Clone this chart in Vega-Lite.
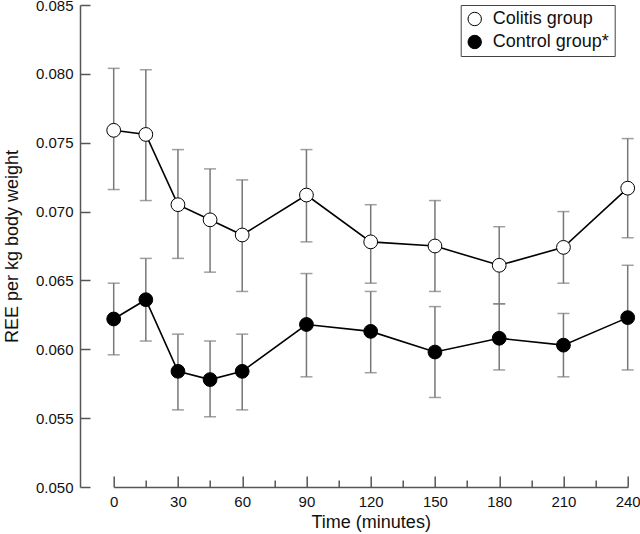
{
  "$schema": "https://vega.github.io/schema/vega-lite/v6.json",
  "width": 514,
  "height": 482,
  "autosize": "none",
  "padding": {"left": 113.7, "top": 5, "right": 12.3, "bottom": 47},
  "config": {
    "view": {"stroke": null},
    "font": "Liberation Sans",
    "axis": {
      "domainColor": "#555555",
      "domainWidth": 1.5,
      "tickColor": "#555555",
      "tickWidth": 1.5,
      "grid": false,
      "labelColor": "#111111",
      "titleColor": "#111111",
      "titleFontWeight": "normal",
      "labelFontSize": 15,
      "titleFontSize": 18
    }
  },
  "data": {
    "values": [
      {"group": "Colitis group", "time": 0, "mean": 0.0759, "lo": 0.0716, "hi": 0.0804},
      {"group": "Colitis group", "time": 15, "mean": 0.0756, "lo": 0.0708, "hi": 0.0803},
      {"group": "Colitis group", "time": 30, "mean": 0.0705, "lo": 0.0666, "hi": 0.0745},
      {"group": "Colitis group", "time": 45, "mean": 0.0694, "lo": 0.0656, "hi": 0.0731},
      {"group": "Colitis group", "time": 60, "mean": 0.0683, "lo": 0.0642, "hi": 0.0723},
      {"group": "Colitis group", "time": 90, "mean": 0.0712, "lo": 0.0678, "hi": 0.0745},
      {"group": "Colitis group", "time": 120, "mean": 0.0678, "lo": 0.0648, "hi": 0.0705},
      {"group": "Colitis group", "time": 150, "mean": 0.0675, "lo": 0.0642, "hi": 0.0708},
      {"group": "Colitis group", "time": 180, "mean": 0.0661, "lo": 0.0633, "hi": 0.0689},
      {"group": "Colitis group", "time": 210, "mean": 0.0674, "lo": 0.0648, "hi": 0.0700},
      {"group": "Colitis group", "time": 240, "mean": 0.0717, "lo": 0.0681, "hi": 0.0753},
      {"group": "Control group*", "time": 0, "mean": 0.0622, "lo": 0.0596, "hi": 0.0648},
      {"group": "Control group*", "time": 15, "mean": 0.0636, "lo": 0.0606, "hi": 0.0666},
      {"group": "Control group*", "time": 30, "mean": 0.0584, "lo": 0.0556, "hi": 0.0611},
      {"group": "Control group*", "time": 45, "mean": 0.0578, "lo": 0.0551, "hi": 0.0606},
      {"group": "Control group*", "time": 60, "mean": 0.0584, "lo": 0.0556, "hi": 0.0611},
      {"group": "Control group*", "time": 90, "mean": 0.0618, "lo": 0.0580, "hi": 0.0655},
      {"group": "Control group*", "time": 120, "mean": 0.0613, "lo": 0.0583, "hi": 0.0642},
      {"group": "Control group*", "time": 150, "mean": 0.0598, "lo": 0.0565, "hi": 0.0631},
      {"group": "Control group*", "time": 180, "mean": 0.0608, "lo": 0.0585, "hi": 0.0633},
      {"group": "Control group*", "time": 210, "mean": 0.0603, "lo": 0.0580, "hi": 0.0626},
      {"group": "Control group*", "time": 240, "mean": 0.0623, "lo": 0.0585, "hi": 0.0661}
    ]
  },
  "encoding": {
    "x": {
      "field": "time",
      "type": "quantitative",
      "scale": {"domain": [0, 240], "nice": false, "zero": false},
      "axis": {
        "title": "Time (minutes)",
        "values": [0, 15, 30, 45, 60, 75, 90, 105, 120, 135, 150, 165, 180, 195, 210, 225, 240],
        "labelExpr": "datum.value % 30 === 0 ? datum.label : ''",
        "tickSize": {"condition": {"test": "datum.value % 30 === 0", "value": -11}, "value": -7},
        "labelPadding": 18,
        "titlePadding": 0,
        "labelFlush": false,
        "labelOverlap": false
      }
    }
  },
  "layer": [
    {
      "mark": {"type": "rule", "color": "#777777", "strokeWidth": 1.5},
      "encoding": {
        "y": {
          "field": "lo",
          "type": "quantitative",
          "scale": {"domain": [0.05, 0.085], "nice": false, "zero": false},
          "axis": {
            "title": "REE per kg body weight",
            "offset": 33.7,
            "values": [0.05, 0.0525, 0.055, 0.0575, 0.06, 0.0625, 0.065, 0.0675, 0.07, 0.0725, 0.075, 0.0775, 0.08, 0.0825, 0.085],
            "format": ".3f",
            "labelExpr": "abs(datum.value*200 - round(datum.value*200)) < 0.01 ? datum.label : ''",
            "tickSize": {"condition": {"test": "abs(datum.value*200 - round(datum.value*200)) < 0.01", "value": -10}, "value": -6},
            "labelPadding": 17,
            "titlePadding": 14,
            "labelFlush": false,
            "labelOverlap": false
          }
        },
        "y2": {"field": "hi"}
      }
    },
    {
      "mark": {"type": "tick", "orient": "horizontal", "size": 12, "thickness": 1.5, "color": "#777777"},
      "encoding": {"y": {"field": "lo", "type": "quantitative"}}
    },
    {
      "mark": {"type": "tick", "orient": "horizontal", "size": 12, "thickness": 1.5, "color": "#777777"},
      "encoding": {"y": {"field": "hi", "type": "quantitative"}}
    },
    {
      "mark": {"type": "line", "color": "black", "strokeWidth": 1.6},
      "encoding": {
        "y": {"field": "mean", "type": "quantitative"},
        "detail": {"field": "group"}
      }
    },
    {
      "mark": {"type": "point", "shape": "circle", "filled": true, "size": 190, "stroke": "black", "strokeWidth": 1, "opacity": 1},
      "encoding": {
        "y": {"field": "mean", "type": "quantitative"},
        "fill": {
          "field": "group",
          "type": "nominal",
          "scale": {"domain": ["Colitis group", "Control group*"], "range": ["white", "black"]},
          "legend": {
            "title": null,
            "orient": "none",
            "legendX": 347,
            "legendY": 0,
            "strokeColor": "#444444",
            "fillColor": "white",
            "padding": 5,
            "rowPadding": 5,
            "symbolType": "circle",
            "symbolSize": 180,
            "symbolStrokeColor": "black",
            "symbolStrokeWidth": 1,
            "labelFontSize": 18,
            "labelColor": "#111111",
            "labelOffset": 9,
            "labelFont": "Liberation Sans"
          }
        }
      }
    }
  ]
}
